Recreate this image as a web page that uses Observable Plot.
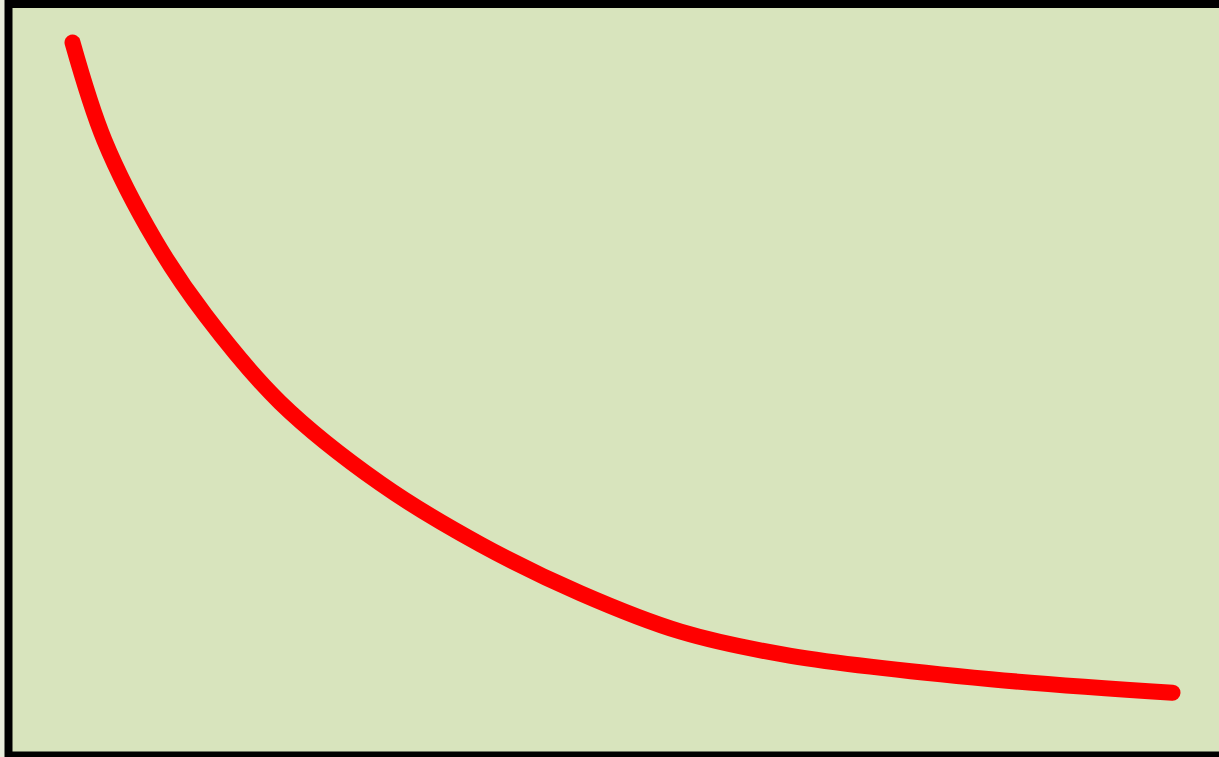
<!DOCTYPE html>
<html>
<head>
<meta charset="utf-8">
<script src="https://cdn.jsdelivr.net/npm/d3@7"></script>
<script src="https://cdn.jsdelivr.net/npm/@observablehq/plot@0.6"></script>
<style>
  html, body { margin: 0; padding: 0; background: #e9eddc; overflow: hidden; }
</style>
</head>
<body>
<div id="chart"></div>
<script>
const xs = [0, 0.29, 0.75, 1.21, 1.89, 2.8, 3.71, 4.62, 5.53, 6.53, 8.35, 10];
const ys = [100, 86.2, 72.1, 61.5, 49.2, 37.8, 29.2, 22.3, 16.9, 13.5, 10.2, 8.3];

const data = xs.map((x, i) => ({x, y: ys[i]}));

const chart = Plot.plot({
  width: 1219,
  height: 757,
  margin: 0,
  style: {background: "#e9eddc"},
  x: {domain: [0, 10], range: [72, 1172], axis: null},
  y: {domain: [0, 100], range: [751, 42], axis: null},
  marks: [
    Plot.frame({fill: "#d8e4bd", stroke: "#000", strokeWidth: 8, insetLeft: 8, insetTop: 3.5, insetBottom: 2, insetRight: -10}),
    Plot.line(data, {x: "x", y: "y", stroke: "#ff0000", strokeWidth: 16, strokeLinecap: "round", strokeLinejoin: "round", curve: "catmull-rom"})
  ]
});
document.getElementById("chart").appendChild(chart);
</script>
</body>
</html>
